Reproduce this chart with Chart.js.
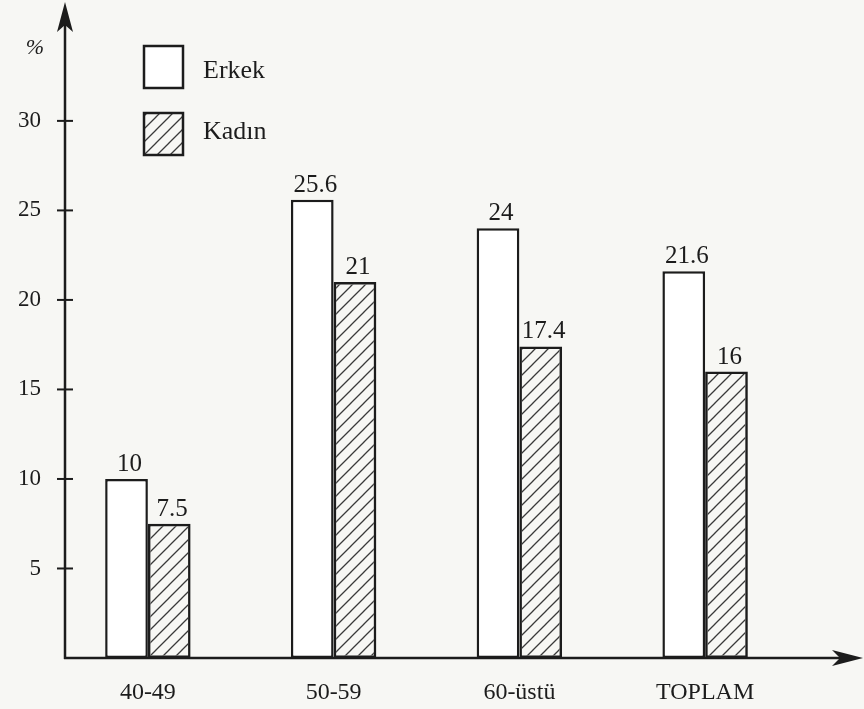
<!DOCTYPE html>
<html>
<head>
<meta charset="utf-8">
<script src="https://cdn.jsdelivr.net/npm/chart.js@4.4.0/dist/chart.umd.min.js"></script>
<style>
  html, body { margin: 0; padding: 0; background: #f7f7f4; }
  #wrap { width: 864px; height: 709px; }
</style>
</head>
<body>
<div id="wrap"><canvas id="chart" width="864" height="709"></canvas></div>
<script>
const groups = ['40-49', '50-59', '60-üstü', 'TOPLAM'];
const erkek = [10, 25.6, 24, 21.6];
const kadin = [7.5, 21, 17.4, 16];
const erkekLabels = ['10', '25.6', '24', '21.6'];
const kadinLabels = ['7.5', '21', '17.4', '16'];
const yTicks = [5, 10, 15, 20, 25, 30];

const ink = '#1c1c1c';
const serif = "'Liberation Serif', 'DejaVu Serif', serif";

function hatchPattern() {
    const c = document.createElement('canvas');
    c.width = c.height = 13;
    const g = c.getContext('2d');
    g.strokeStyle = '#3a3a3a';
    g.lineWidth = 1.3;
    g.beginPath();
    g.moveTo(-1, 14); g.lineTo(14, -1);
    g.moveTo(-3, 3); g.lineTo(3, -3);
    g.moveTo(10, 16); g.lineTo(16, 10);
    g.stroke();
    return g.createPattern(c, 'repeat');
}
const hatch = hatchPattern();

// axes with arrows, tick marks, % sign, legend and bar values
const decor = {
    id: 'decor',
    afterDatasetsDraw(chart) {
        const ctx = chart.ctx;
        const y = chart.scales.y;
        const axisX = 65;
        const base = y.getPixelForValue(0);
        ctx.save();
        ctx.strokeStyle = ink;
        ctx.fillStyle = ink;
        ctx.lineWidth = 2.5;
        ctx.beginPath();
        ctx.moveTo(axisX, base + 1);
        ctx.lineTo(axisX, 20);
        ctx.moveTo(axisX - 1, base);
        ctx.lineTo(845, base);
        ctx.stroke();
        // arrowheads
        ctx.beginPath();
        ctx.moveTo(axisX, 2);
        ctx.lineTo(axisX - 8, 32);
        ctx.lineTo(axisX, 25);
        ctx.lineTo(axisX + 8, 32);
        ctx.closePath();
        ctx.fill();
        ctx.beginPath();
        ctx.moveTo(863, base);
        ctx.lineTo(832, base - 8);
        ctx.lineTo(840, base);
        ctx.lineTo(832, base + 8);
        ctx.closePath();
        ctx.fill();
        // tick marks
        ctx.lineWidth = 2;
        yTicks.forEach(v => {
            const py = y.getPixelForValue(v);
            ctx.beginPath();
            ctx.moveTo(axisX - 8, py);
            ctx.lineTo(axisX + 8, py);
            ctx.stroke();
        });
        // % sign
        ctx.font = 'italic 22px ' + serif;
        ctx.textAlign = 'center';
        ctx.textBaseline = 'middle';
        ctx.fillText('%', 35, 48);
        // legend
        ctx.lineWidth = 2.5;
        ctx.fillStyle = '#fff';
        ctx.fillRect(144, 46, 39, 42);
        ctx.strokeRect(144, 46, 39, 42);
        ctx.fillStyle = hatch;
        ctx.fillRect(144, 113, 39, 42);
        ctx.strokeRect(144, 113, 39, 42);
        ctx.fillStyle = ink;
        ctx.font = '26px ' + serif;
        ctx.textAlign = 'left';
        ctx.fillText(chart.data.datasets[0].label, 203, 71);
        ctx.fillText(chart.data.datasets[1].label, 203, 132);
        // values above bars
        ctx.font = '25px ' + serif;
        ctx.textAlign = 'center';
        ctx.textBaseline = 'alphabetic';
        [erkekLabels, kadinLabels].forEach((labels, di) => {
            chart.getDatasetMeta(di).data.forEach((bar, i) => {
                ctx.fillText(labels[i], bar.x + 3, bar.y - 8);
            });
        });
        ctx.restore();
    }
};

new Chart(document.getElementById('chart'), {
    type: 'bar',
    data: {
        labels: groups,
        datasets: [
            {
                label: 'Erkek',
                data: erkek,
                backgroundColor: '#ffffff',
                borderColor: ink,
                borderWidth: 2.5,
                borderSkipped: false
            },
            {
                label: 'Kadın',
                data: kadin,
                backgroundColor: hatch,
                borderColor: ink,
                borderWidth: 2.5,
                borderSkipped: false
            }
        ]
    },
    options: {
        responsive: false,
        animation: false,
        events: [],
        layout: { padding: { top: 0, right: 66, left: 0, bottom: 0 } },
        plugins: {
            legend: { display: false },
            tooltip: { enabled: false }
        },
        datasets: {
            bar: { categoryPercentage: 0.46, barPercentage: 1 }
        },
        scales: {
            x: {
                grid: { display: false, drawTicks: false },
                border: { display: false },
                ticks: { color: ink, font: { family: serif, size: 24 }, padding: 20 },
                afterFit: s => { s.height = 51; }
            },
            y: {
                min: 0,
                max: 35.2,
                grid: { display: false, drawTicks: false },
                border: { display: false },
                ticks: {
                    stepSize: 5,
                    color: ink,
                    padding: 14,
                    font: { family: serif, size: 23 },
                    callback: v => (v > 0 && v <= 30 ? v : '')
                },
                afterFit: s => { s.width = 55; }
            }
        }
    },
    plugins: [decor]
});
</script>
</body>
</html>
